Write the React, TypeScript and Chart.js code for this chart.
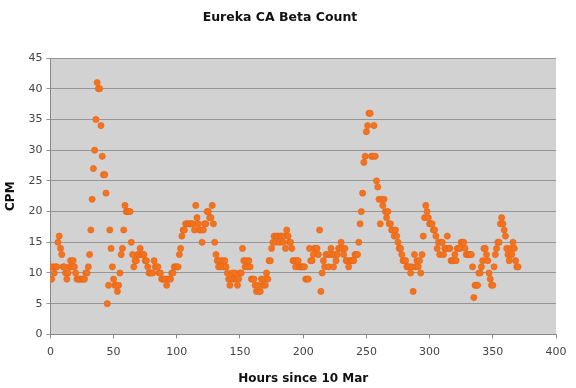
import React, { useEffect, useRef } from "react";
import { Chart, registerables } from "chart.js";

Chart.register(...registerables);

const titleText = "Eureka CA Beta Count";
const xTitle = "Hours since 10 Mar";
const yTitle = "CPM";

// CPM reading for each hour, index = hours since 10 Mar
const cpm: number[] = [
  11, 9, 11, 10, 11, 11, 15, 16, 14, 13, // 0-9
  11, 11, 10, 9, 10, 11, 12, 11, 12, 11, // 10-19
  10, 9, 9, 9, 9, 9, 9, 9, 10, 10, // 20-29
  11, 13, 17, 22, 27, 30, 35, 41, 40, 40, // 30-39
  34, 29, 26, 26, 23, 5, 8, 17, 14, 11, // 40-49
  9, 8, 8, 7, 8, 10, 13, 14, 17, 21, // 50-59
  20, 20, 20, 20, 15, 13, 11, 12, 12, 13, // 60-69
  13, 14, 13, 13, 13, 12, 12, 11, 10, 10, // 70-79
  10, 10, 12, 11, 11, 11, 10, 10, 9, 9, // 80-89
  9, 9, 8, 9, 9, 9, 10, 10, 11, 11, // 90-99
  11, 11, 13, 14, 16, 17, 17, 18, 18, 18, // 100-109
  18, 18, 18, 18, 17, 21, 19, 18, 17, 17, // 110-119
  15, 17, 18, 18, 20, 20, 19, 19, 21, 18, // 120-129
  15, 13, 12, 11, 12, 11, 12, 11, 12, 11, // 130-139
  10, 9, 8, 9, 10, 9, 10, 9, 8, 9, // 140-149
  10, 10, 14, 12, 11, 12, 11, 12, 11, 9, // 150-159
  9, 9, 8, 7, 8, 7, 7, 9, 8, 9, // 160-169
  8, 10, 9, 12, 12, 14, 15, 16, 15, 16, // 170-179
  16, 15, 16, 16, 15, 16, 14, 17, 16, 15, // 180-189
  15, 14, 12, 12, 11, 12, 12, 11, 11, 11, // 190-199
  11, 11, 9, 9, 9, 14, 12, 12, 13, 14, // 200-209
  14, 14, 13, 17, 7, 10, 12, 11, 13, 13, // 210-219
  11, 13, 14, 13, 11, 13, 12, 13, 14, 14, // 220-229
  15, 14, 13, 14, 12, 12, 11, 12, 12, 12, // 230-239
  12, 13, 13, 13, 15, 18, 20, 23, 28, 29, // 240-249
  33, 34, 36, 36, 29, 29, 34, 29, 25, 24, // 250-259
  22, 18, 22, 21, 22, 20, 19, 20, 18, 18, // 260-269
  17, 17, 16, 17, 16, 15, 14, 14, 13, 12, // 270-279
  12, 12, 11, 11, 11, 10, 11, 7, 13, 11, // 280-289
  12, 11, 12, 10, 13, 16, 19, 21, 20, 19, // 290-299
  18, 18, 18, 17, 17, 16, 14, 15, 13, 15, // 300-309
  15, 13, 14, 14, 16, 14, 14, 12, 12, 12, // 310-319
  13, 12, 14, 14, 14, 15, 15, 15, 14, 13, // 320-329
  13, 13, 13, 13, 11, 6, 8, 8, 8, 10, // 330-339
  10, 11, 12, 14, 14, 13, 12, 10, 9, 8, // 340-349
  8, 11, 13, 14, 15, 15, 18, 19, 18, 17, // 350-359
  16, 14, 13, 12, 14, 13, 15, 14, 12, 11, // 360-369
  11, // 370
];

const xMin = 0;
const xMax = 400;
const xStep = 50;
const yMin = 0;
const yMax = 45;
const yStep = 5;

const FONT = "'DejaVu Sans', Verdana, sans-serif";

const plotBg = {
  id: "plotBg",
  beforeDraw(chart: any) {
    const { ctx, chartArea } = chart;
    if (!chartArea) return;
    ctx.save();
    ctx.fillStyle = "#d2d2d2";
    ctx.fillRect(chartArea.left, chartArea.top, chartArea.right - chartArea.left, chartArea.bottom - chartArea.top);
    ctx.restore();
  },
};

export default function App() {
  const ref = useRef<HTMLCanvasElement | null>(null);

  useEffect(() => {
    if (!ref.current) return;
    const points = cpm.map((v, i) => ({ x: i, y: v }));
    const chart = new Chart(ref.current, {
      type: "scatter",
      data: {
        datasets: [
          {
            label: "CPM",
            data: points,
            pointRadius: 3.1,
            pointHoverRadius: 3.1,
            backgroundColor: "#f5731c",
            borderColor: "#e2651a",
            borderWidth: 0.6,
          },
        ],
      },
      options: {
        responsive: false,
        animation: false,
        layout: { padding: { left: 4, right: 20, top: 0, bottom: 2 } },
        plugins: {
          legend: { display: false },
          tooltip: { enabled: false },
          title: {
            display: true,
            text: titleText,
            color: "#111",
            font: { family: FONT, size: 12.5, weight: "bold" },
            padding: { top: 10, bottom: 33 },
          },
        },
        scales: {
          x: {
            type: "linear",
            min: xMin,
            max: xMax,
            ticks: {
              stepSize: xStep,
              color: "#444",
              font: { family: FONT, size: 11 },
              padding: 7,
              maxRotation: 0,
            },
            grid: {
              drawOnChartArea: false,
              drawTicks: true,
              tickLength: 4,
              color: "#888",
            },
            border: { color: "#888" },
            title: {
              display: true,
              text: xTitle,
              color: "#111",
              font: { family: FONT, size: 12, weight: "bold" },
              padding: { top: 6, bottom: 0 },
            },
          },
          y: {
            type: "linear",
            min: yMin,
            max: yMax,
            ticks: {
              stepSize: yStep,
              color: "#444",
              font: { family: FONT, size: 11 },
              padding: 4,
            },
            grid: {
              color: "#969696",
              lineWidth: 1,
              drawTicks: true,
              tickLength: 4,
            },
            border: { color: "#888" },
            title: {
              display: true,
              text: yTitle,
              color: "#111",
              font: { family: FONT, size: 12, weight: "bold" },
              padding: { top: 0, bottom: 6 },
            },
          },
        },
      },
      plugins: [plotBg],
    });
    return () => chart.destroy();
  }, []);

  return (
    <div style={{ position: "absolute", left: 0, top: 0, width: 576, height: 388, background: "#fff" }}>
      <canvas ref={ref} width={576} height={388} style={{ width: 576, height: 388 }} />
    </div>
  );
}
